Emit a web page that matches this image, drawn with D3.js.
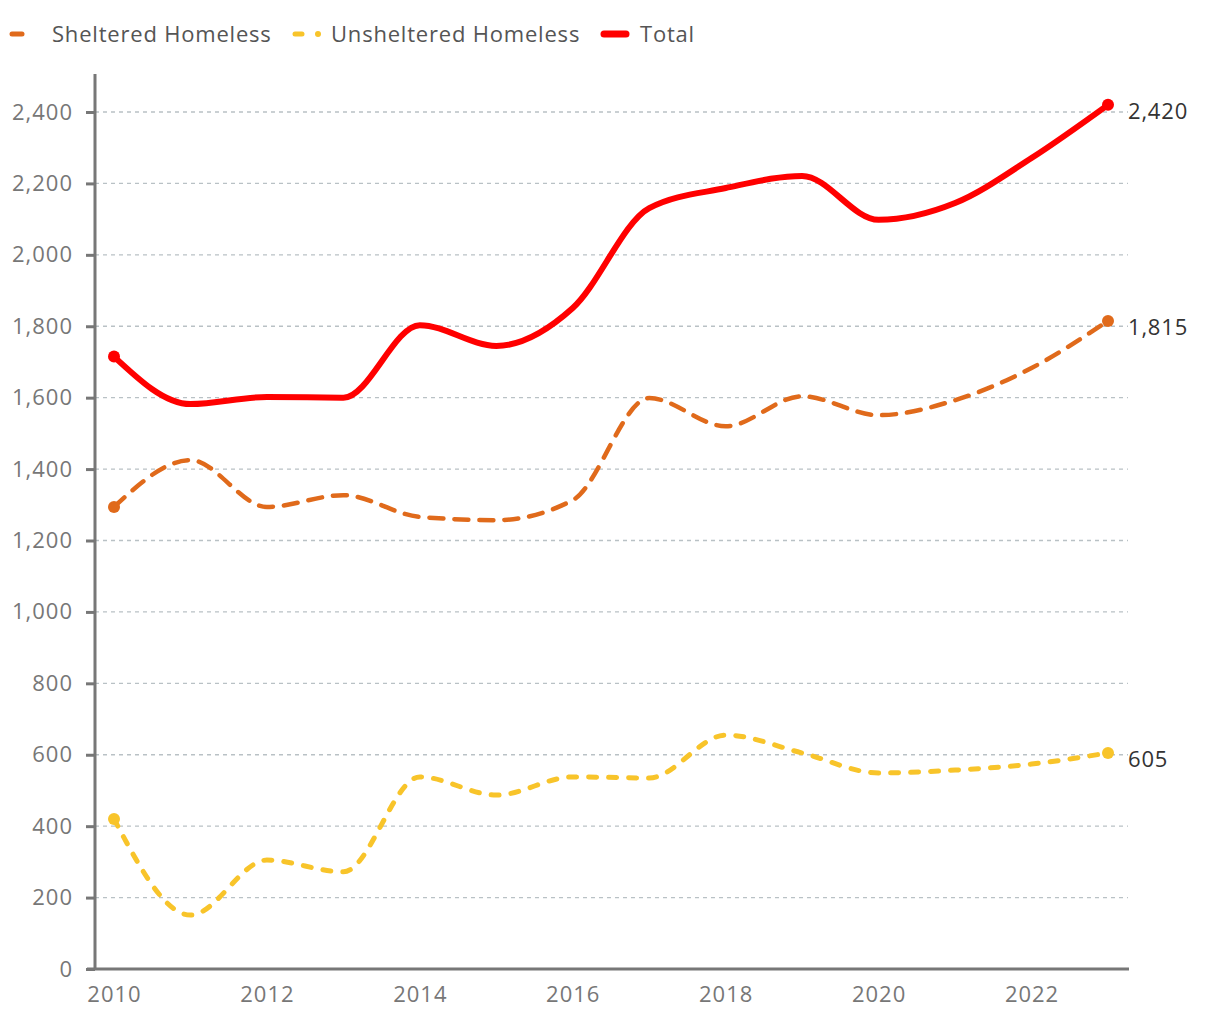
<!DOCTYPE html>
<html><head><meta charset="utf-8">
<script src="https://cdn.jsdelivr.net/npm/d3@7"></script>
<style>body{margin:0;background:#fff;}svg{font-family:"Open Sans",sans-serif;}</style>
</head><body><svg id="c" width="1220" height="1020"></svg>
<script>
const years = [2010,2011,2012,2013,2014,2015,2016,2017,2018,2019,2020,2021,2022,2023];
const sheltered = [1294,1425,1294,1327,1266,1257,1313,1599,1520,1604,1551,1593,1683,1815];
const unsheltered = [420,151,305,272,538,487,538,535,655,605,549,557,574,605];
const total = [1715,1582,1602,1600,1803,1745,1851,2131,2187,2221,2098,2145,2271,2420];
const yTicks = [0,200,400,600,800,1000,1200,1400,1600,1800,2000,2200,2400];
const xTicks = [2010,2012,2014,2016,2018,2020,2022];
const seriesNames = ["Sheltered Homeless","Unsheltered Homeless","Total"];
const seriesColors = ["#e06a1b","#f8c42a","#ff0000"];

const svg = d3.select("#c");
const x = d3.scaleLinear().domain([2010,2023]).range([114,1108]);
const y = d3.scaleLinear().domain([0,2400]).range([969,112]);
const fmt = d3.format(",");

// grid
svg.append("g").selectAll("line").data(yTicks.filter(d=>d>0)).join("line")
  .attr("x1",95).attr("x2",1128).attr("y1",d=>y(d)).attr("y2",d=>y(d))
  .attr("stroke","#b9c1c5").attr("stroke-width",1.3).attr("stroke-dasharray","4,4");

// y axis
const ya = svg.append("g").attr("transform","translate(95,0)")
  .call(d3.axisLeft(y).tickValues(yTicks).tickFormat(fmt).tickSize(9).tickPadding(13));
ya.select(".domain").remove();
ya.selectAll(".tick line").attr("stroke","#777").attr("stroke-width",3);
ya.selectAll(".tick text").attr("fill","#777").attr("font-size",22).attr("letter-spacing","1px").attr("font-family","Open Sans");
svg.append("line").attr("x1",95).attr("x2",95).attr("y1",74).attr("y2",970).attr("stroke","#777").attr("stroke-width",3);

// x axis
const xa = svg.append("g").attr("transform","translate(0,969)")
  .call(d3.axisBottom(x).tickValues(xTicks).tickFormat(d3.format("d")).tickSize(0).tickPadding(17));
xa.select(".domain").remove();
xa.selectAll(".tick text").attr("fill","#777").attr("font-size",22).attr("letter-spacing","1px").attr("font-family","Open Sans");
svg.append("line").attr("x1",87).attr("x2",1129).attr("y1",969).attr("y2",969).attr("stroke","#777").attr("stroke-width",3);

const line = d3.line().x((d,i)=>x(years[i])).y(d=>y(d)).curve(d3.curveMonotoneX);
const data = [sheltered, unsheltered, total];
const widths = [4.5,5,6];
const dashes = ["14,11","8,12",null];
data.forEach((s,k)=>{
  svg.append("path").datum(s).attr("d",line).attr("fill","none")
    .attr("stroke",seriesColors[k]).attr("stroke-width",widths[k])
    .attr("stroke-linecap","round").attr("stroke-linejoin","round")
    .attr("stroke-dasharray",dashes[k]);
  [0,s.length-1].forEach(i=>{
    svg.append("circle").attr("cx",x(years[i])).attr("cy",y(s[i])).attr("r",6).attr("fill",seriesColors[k]);
  });
  svg.append("text").attr("x",1128).attr("y",y(s[s.length-1])+6).attr("dy","0.35em")
    .attr("font-size",22).attr("letter-spacing","0.8px").attr("fill","#333").text(fmt(s[s.length-1]));
});

// legend
const lg = svg.append("g");
lg.append("line").attr("x1",12).attr("x2",22).attr("y1",34).attr("y2",34).attr("stroke",seriesColors[0]).attr("stroke-width",5).attr("stroke-linecap","round");
lg.append("line").attr("x1",295).attr("x2",302).attr("y1",34).attr("y2",34).attr("stroke",seriesColors[1]).attr("stroke-width",5).attr("stroke-linecap","round");
lg.append("circle").attr("cx",318).attr("cy",34).attr("r",3).attr("fill",seriesColors[1]);
lg.append("line").attr("x1",604).attr("x2",626).attr("y1",34).attr("y2",34).attr("stroke",seriesColors[2]).attr("stroke-width",7).attr("stroke-linecap","round");
[52,331,640].forEach((tx,k)=>{
  lg.append("text").attr("x",tx).attr("y",34).attr("dy","0.35em").attr("font-size",22).attr("letter-spacing","0.8px").attr("fill","#555").text(seriesNames[k]);
});
</script></body></html>
